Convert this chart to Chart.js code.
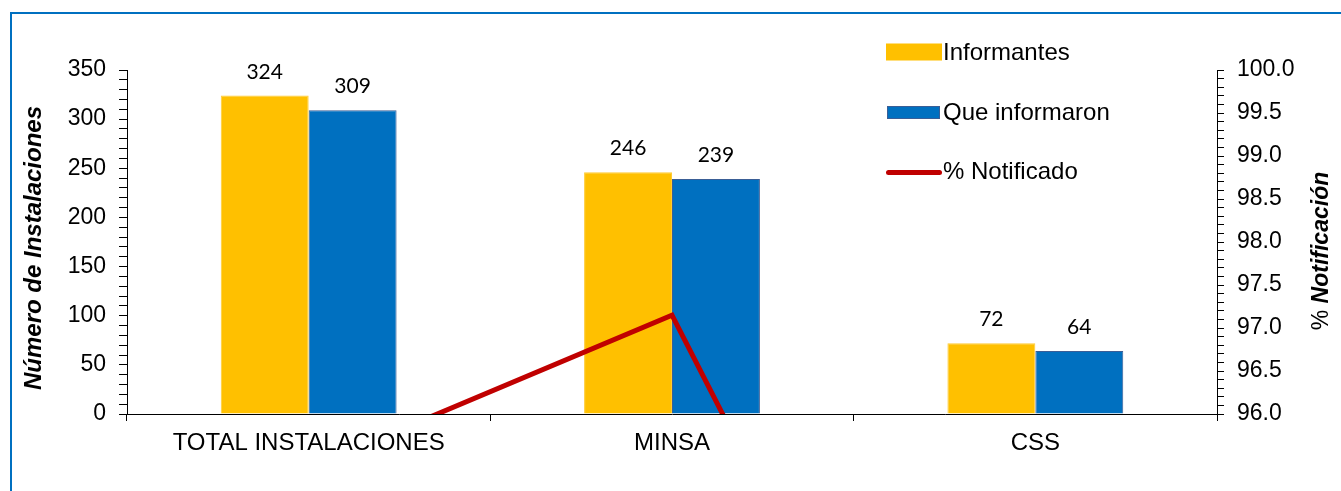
<!DOCTYPE html>
<html>
<head>
<meta charset="utf-8">
<script src="https://cdn.jsdelivr.net/npm/chart.js@4.4.1/dist/chart.umd.min.js"></script>
<style>
  html, body { margin: 0; padding: 0; background: #fff; }
  #wrap { position: relative; width: 1341px; height: 491px; overflow: hidden; }
  canvas { display: block; }
</style>
</head>
<body>
<div id="wrap"><canvas id="chart" width="1341" height="491"></canvas></div>
<script>
// data
const categories = ['TOTAL INSTALACIONES', 'MINSA', 'CSS'];
const informantes = [324, 246, 72];
const queInformaron = [309, 239, 64];
const pctNotificado = [95.37, 97.15, 88.89];

// axis ranges
const countRange = [0, 350];
const pctRange = [96, 100];

const FONT = "'Liberation Sans', Arial, sans-serif";
const YELLOW = '#FFC000';
const BLUE = '#0070C0';
const RED = '#C00000';

Chart.defaults.color = '#000';
Chart.defaults.font.family = FONT;
Chart.defaults.font.size = 23;

// frame, value labels, axis titles and the legend are drawn by hand
const decorations = {
  id: 'decorations',
  afterDraw(chart) {
    const ctx = chart.ctx;
    ctx.save();

    // outer frame, only top and left edges fall inside the picture
    ctx.strokeStyle = BLUE;
    ctx.lineWidth = 2;
    ctx.beginPath();
    ctx.moveTo(11, 491);
    ctx.lineTo(11, 13);
    ctx.lineTo(1341, 13);
    ctx.stroke();

    // numbers above the bars
    ctx.fillStyle = '#000';
    ctx.font = '21px Lato, sans-serif';
    ctx.textAlign = 'center';
    ctx.textBaseline = 'alphabetic';
    [0, 1].forEach(i => {
      chart.getDatasetMeta(i).data.forEach((bar, j) => {
        ctx.fillText(String(chart.data.datasets[i].data[j]), bar.x, bar.y - 17);
      });
    });

    // left title
    ctx.save();
    ctx.translate(34, 248);
    ctx.rotate(-Math.PI / 2);
    ctx.font = 'italic bold 24px ' + FONT;
    ctx.textBaseline = 'middle';
    ctx.fillText('Número de Instalaciones', 0, 0);
    ctx.restore();

    // right title: "%" plain, rest bold italic
    ctx.save();
    ctx.translate(1322, 251);
    ctx.rotate(-Math.PI / 2);
    ctx.textBaseline = 'middle';
    ctx.textAlign = 'left';
    const plain = '23px ' + FONT;
    const bold = 'italic bold 23px ' + FONT;
    ctx.font = plain;
    const w1 = ctx.measureText('% ').width;
    ctx.font = bold;
    const w2 = ctx.measureText('Notificación').width;
    let x = -(w1 + w2) / 2;
    ctx.font = plain;
    ctx.fillText('% ', x, 0);
    ctx.font = bold;
    ctx.fillText('Notificación', x + w1, 0);
    ctx.restore();

    // legend (vertical, top right)
    const ds = chart.data.datasets;
    ctx.font = '24px ' + FONT;
    ctx.textAlign = 'left';
    ctx.textBaseline = 'alphabetic';

    ctx.fillStyle = ds[0].backgroundColor;
    ctx.fillRect(886, 43.5, 56, 17);
    ctx.fillStyle = ds[1].backgroundColor;
    ctx.fillRect(887, 106, 53, 13);
    ctx.strokeStyle = ds[1].borderColor;
    ctx.lineWidth = 1;
    ctx.strokeRect(887.5, 106.5, 52, 12);
    ctx.strokeStyle = ds[2].borderColor;
    ctx.lineWidth = 5;
    ctx.lineCap = 'round';
    ctx.beginPath();
    ctx.moveTo(888.5, 172.5);
    ctx.lineTo(939.5, 172.5);
    ctx.stroke();

    ctx.fillStyle = '#000';
    ctx.fillText(ds[0].label, 943, 60);
    ctx.fillText(ds[1].label, 943, 119.5);
    ctx.fillText(ds[2].label, 943, 179);

    ctx.restore();
  }
};

new Chart(document.getElementById('chart'), {
  data: {
    labels: categories,
    datasets: [
      {
        type: 'bar',
        label: 'Informantes',
        data: informantes,
        backgroundColor: YELLOW,
        borderColor: '#FFCB33',
        borderWidth: 1,
        yAxisID: 'y',
        order: 1
      },
      {
        type: 'bar',
        label: 'Que informaron',
        data: queInformaron,
        backgroundColor: BLUE,
        borderColor: '#3A5E96',
        borderWidth: 1,
        yAxisID: 'y',
        order: 1
      },
      {
        type: 'line',
        label: '% Notificado',
        data: pctNotificado,
        borderColor: RED,
        borderWidth: 5,
        pointRadius: 0,
        tension: 0,
        yAxisID: 'y1',
        clip: 0,
        order: 0
      }
    ]
  },
  options: {
    responsive: false,
    animation: false,
    devicePixelRatio: 1,
    layout: { padding: { top: 70, left: 0, right: 0, bottom: 0 } },
    datasets: {
      bar: { categoryPercentage: 0.484, barPercentage: 1.0 }
    },
    plugins: {
      legend: { display: false },
      tooltip: { enabled: false }
    },
    scales: {
      x: {
        grid: { offset: true, drawOnChartArea: false, tickLength: 7, color: '#000' },
        border: { color: '#000', width: 1 },
        ticks: { padding: 8, font: { size: 24 } },
        afterFit: s => { s.height = 77; }
      },
      y: {
        position: 'left',
        min: countRange[0],
        max: countRange[1],
        grid: { drawOnChartArea: false, tickLength: 8, color: '#000' },
        border: { color: '#000', width: 1 },
        ticks: {
          stepSize: 10,
          autoSkip: false,
          padding: 13,
          callback: v => (v % 50 === 0 ? String(v) : '')
        },
        afterFit: s => { s.width = 127; }
      },
      y1: {
        position: 'right',
        min: pctRange[0],
        max: pctRange[1],
        grid: { drawOnChartArea: false, tickLength: 7, color: '#000' },
        border: { color: '#000', width: 1 },
        ticks: {
          stepSize: 0.1,
          autoSkip: false,
          padding: 13,
          callback: v => (Math.abs(v * 2 - Math.round(v * 2)) < 1e-6 ? v.toFixed(1) : '')
        },
        afterFit: s => { s.width = 124; }
      }
    }
  },
  plugins: [decorations]
});
</script>
</body>
</html>
